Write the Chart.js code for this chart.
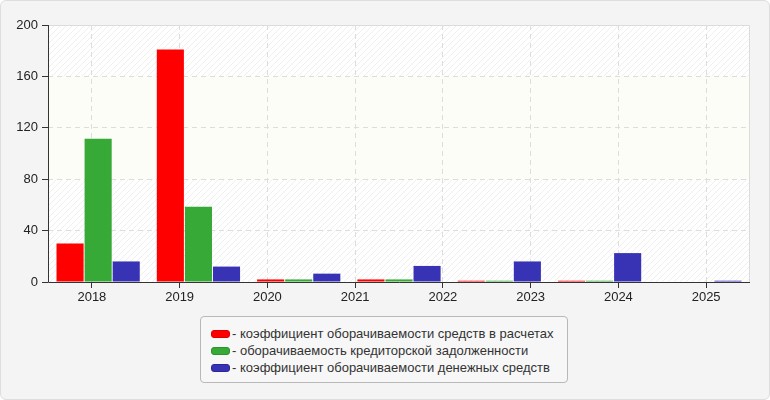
<html>
<head>
<title>Оборачиваемость</title>
<style>
body { margin: 0; background: #fff; font-family: "Liberation Sans", Arial, sans-serif; }
#wrap { position: absolute; left: 0; top: 0; width: 770px; height: 400px; box-sizing: border-box;
        border: 1px solid #dedede; border-radius: 6px; background: #f4f4f4; }
#myChart { position: absolute; left: 0; top: 0; }
#legend { position: absolute; left: 199px; top: 315px; width: 368px; height: 67px; box-sizing: border-box;
          border: 1px solid #b8b8b8; border-radius: 4px; background: #f7f7f7; padding: 8px 0 0 10px; }
.item { height: 17px; line-height: 17px; font-size: 13px; color: #333; white-space: nowrap; }
.sw { display: inline-block; width: 17px; height: 6px; border: 1px solid #999; border-radius: 3px;
      vertical-align: middle; margin-right: 2px; position: relative; top: -1px; }
</style>
</head>

<body>
<script src="https://cdn.jsdelivr.net/npm/chart.js@4.4.1/dist/chart.umd.min.js"></script>

<div id="wrap">
  <canvas id="myChart" width="768" height="398"></canvas>
  <div id="legend"></div>
</div>

<script type="text/javascript">
// tick labels along the bottom axis
var years = ["2018", "2019", "2020", "2021", "2022", "2023", "2024", "2025"];
// bar groups (the original chart only has 7 groups spread over the axis)
var barGroups = ["2018", "2019", "2020", "2021", "2022", "2023", "2024"];

var labels = ["- коэффициент оборачиваемости средств в расчетах",
              "- оборачиваемость кредиторской задолженности",
              "- коэффициент оборачиваемости денежных средств"];
var receivables = [30, 181, 2, 2, 1, 1, 0];
var payables = [111.5, 58.5, 2, 2, 1, 1, 0];
var cash = [16, 12, 6.5, 12.5, 16, 22.5, 1];
var yTicks = [0, 40, 80, 120, 160, 200];

var colors = ["#ff0000", "#36a936", "#3733b4"];
var borders = ["#dd0000", "#2e922e", "#2c2996"];

function makeHatch() {
  var c = document.createElement("canvas");
  c.width = 6; c.height = 6;
  var g = c.getContext("2d");
  g.fillStyle = "#ffffff";
  g.fillRect(0, 0, 6, 6);
  g.strokeStyle = "#efefef";
  g.lineWidth = 1;
  g.beginPath();
  g.moveTo(0, 6); g.lineTo(6, 0);
  g.moveTo(-3, 3); g.lineTo(3, -3);
  g.moveTo(3, 9); g.lineTo(9, 3);
  g.stroke();
  return c;
}

var plotBg = {
  id: "plotBg",
  beforeDraw: function(chart) {
    var a = chart.chartArea, ctx = chart.ctx, y = chart.scales.y;
    ctx.save();
    ctx.fillStyle = ctx.createPattern(makeHatch(), "repeat");
    ctx.fillRect(a.left, a.top, a.right - a.left, a.bottom - a.top);
    ctx.fillStyle = "#fdfdf7";
    var y1 = y.getPixelForValue(160), y2 = y.getPixelForValue(80);
    ctx.fillRect(a.left, y1, a.right - a.left, y2 - y1);
    ctx.strokeStyle = "#dcdcdc";
    ctx.lineWidth = 1;
    ctx.beginPath();
    ctx.moveTo(a.left, a.top + 0.5); ctx.lineTo(a.right - 0.5, a.top + 0.5); ctx.lineTo(a.right - 0.5, a.bottom);
    ctx.stroke();
    ctx.restore();
  },
  afterDraw: function(chart) {
    // solid dark axis lines on the left and bottom
    var a = chart.chartArea, ctx = chart.ctx;
    ctx.save();
    ctx.strokeStyle = "#333333";
    ctx.lineWidth = 1;
    ctx.setLineDash([]);
    ctx.beginPath();
    ctx.moveTo(a.left + 0.5, a.top);
    ctx.lineTo(a.left + 0.5, a.bottom + 0.5);
    ctx.lineTo(a.right, a.bottom + 0.5);
    ctx.stroke();
    ctx.restore();
  }
};

function bars(i, data) {
  return {label: labels[i],
          data: data,
          xAxisID: "xb",
          backgroundColor: colors[i],
          borderColor: borders[i],
          borderWidth: 0,
          categoryPercentage: 0.84,
          barPercentage: 0.965};
}

var ctx = document.getElementById("myChart").getContext("2d");

var myBarChart = new Chart(ctx, {
  type: "bar",
  data: {
    labels: barGroups,
    datasets: [bars(0, receivables), bars(1, payables), bars(2, cash)]
  },
  plugins: [plotBg],
  options: {
    responsive: false,
    animation: false,
    layout: {padding: {left: 0, top: 24, right: 19, bottom: 96}},
    plugins: {legend: {display: false}, tooltip: {enabled: false}},
    scales: {
      xb: {
        type: "category",
        labels: barGroups,
        display: false,
        offset: true
      },
      x: {
        type: "category",
        labels: years,
        position: "bottom",
        offset: true,
        grid: {offset: false, color: "#dddddd", drawTicks: true,
               tickLength: 6, tickColor: "#333333", tickBorderDash: [1, 0]},
        border: {display: false, dash: [5, 4]},
        ticks: {color: "#222222", padding: 2, font: {family: "Liberation Sans", size: 13}, maxRotation: 0},
        afterFit: function(s) { s.height = 21; }
      },
      y: {
        min: 0,
        max: 200,
        afterBuildTicks: function(s) { s.ticks = yTicks.map(function(v) { return {value: v}; }); },
        grid: {color: function(c) { return c.tick.value === 0 || c.tick.value === 200 ? "rgba(0,0,0,0)" : "#dddddd"; },
               tickLength: 6, tickColor: "#333333", tickBorderDash: [1, 0]},
        border: {display: false, dash: [5, 4]},
        ticks: {color: "#222222", padding: 4, font: {family: "Liberation Sans", size: 13}},
        afterFit: function(s) { s.width = 47; }
      }
    }
  }
});

var leg = document.getElementById("legend");
myBarChart.data.datasets.forEach(function(ds) {
  var row = document.createElement("div");
  row.className = "item";
  var sw = document.createElement("span");
  sw.className = "sw";
  sw.style.background = ds.backgroundColor;
  sw.style.borderColor = ds.borderColor;
  row.appendChild(sw);
  row.appendChild(document.createTextNode(ds.label));
  leg.appendChild(row);
});
</script>
</body>
</html>
